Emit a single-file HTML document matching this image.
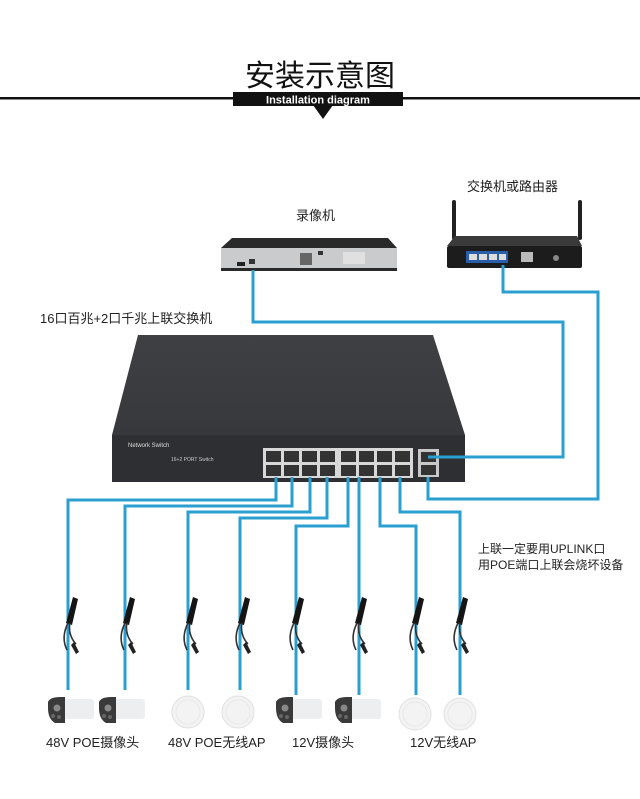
<!DOCTYPE html>
<html><head><meta charset="utf-8"><style>
html,body{margin:0;padding:0;background:#fff;}
svg{display:block;}
text{font-family:"Liberation Sans","Noto Sans CJK SC",sans-serif;}
</style></head><body>
<svg width="640" height="799" viewBox="0 0 640 799" xmlns="http://www.w3.org/2000/svg">
<defs>
<linearGradient id="tg" x1="0" y1="0" x2="0" y2="1"><stop offset="0" stop-color="#3e4044"/><stop offset="1" stop-color="#36383b"/></linearGradient>
<g id="ad">
<path d="M3 -3 L8 -1 L2 25 L-4 23 Z" fill="#151515"/>
<path d="M-2 23 C-7 33 -7 42 -3 50" stroke="#333" stroke-width="1.6" fill="none"/>
<path d="M0 23 C-2 32 2 40 6 44" stroke="#333" stroke-width="1.6" fill="none"/>
<path d="M4 42 L9 52 L6 54 L1 45 Z" fill="#222"/>
</g>
<g id="cam">
<rect x="8" y="2" width="38" height="20" rx="3" fill="#eceef0"/>
<path d="M0 5 Q2 0 12 0 L17 0 L17 26 L7 26 Q0 22 0 11 Z" fill="#3a3a3a"/>
<circle cx="9" cy="11" r="3.5" fill="#888"/>
<circle cx="5" cy="19" r="2" fill="#666"/><circle cx="11" cy="20" r="2" fill="#666"/>
</g>
<g id="ap">
<circle cx="0" cy="0" r="16" fill="#f3f3f3" stroke="#e0e0e0"/>
<circle cx="0" cy="0" r="12" fill="none" stroke="#e8e8e8"/>
</g>
</defs>

<text x="320" y="86" font-size="30" text-anchor="middle" fill="#111">安装示意图</text>
<rect x="0" y="97" width="640" height="2.5" fill="#111"/>
<rect x="233" y="92" width="170" height="14" fill="#111"/>
<text x="318" y="103.5" font-size="11" fill="#fff" text-anchor="middle" font-weight="bold">Installation diagram</text>
<polygon points="313,105 333,105 323,119" fill="#111"/>

<text x="296" y="220" font-size="13" fill="#222">录像机</text>
<text x="467" y="191" font-size="13" fill="#222">交换机或路由器</text>
<text x="40" y="323" font-size="13" fill="#222">16口百兆+2口千兆上联交换机</text>
<text x="478" y="553" font-size="12" fill="#222">上联一定要用UPLINK口</text>
<text x="478" y="569" font-size="12" fill="#222">用POE端口上联会烧坏设备</text>

<polygon points="232,238 388,238 397,248 221,248" fill="#2a2a2a"/>
<rect x="221" y="248" width="176" height="22" fill="#c9cbcd"/>
<rect x="221" y="268" width="176" height="3" fill="#2a2a2a"/>
<rect x="237" y="262" width="8" height="4" fill="#222"/><rect x="249" y="259" width="6" height="5" fill="#333"/>
<rect x="300" y="253" width="12" height="12" fill="#666"/><rect x="318" y="251" width="5" height="4" fill="#333"/>
<rect x="343" y="252" width="22" height="12" fill="#e0e0e0"/>

<rect x="452" y="200" width="4" height="40" rx="2" fill="#222"/>
<rect x="578" y="200" width="4" height="40" rx="2" fill="#222"/>
<polygon points="455,236 577,236 582,246 447,246" fill="#3a3a3a"/>
<rect x="447" y="246" width="135" height="22" rx="2" fill="#1c1c1c"/>
<rect x="466" y="251" width="42" height="12" fill="#2b5ea8"/>
<rect x="469" y="254" width="8" height="6" fill="#ddd"/><rect x="479" y="254" width="8" height="6" fill="#ddd"/><rect x="489" y="254" width="8" height="6" fill="#ddd"/><rect x="499" y="254" width="7" height="6" fill="#ddd"/>
<rect x="521" y="252" width="12" height="10" fill="#bbb"/>
<circle cx="556" cy="258" r="3" fill="#888"/>

<polygon points="138,335 433,335 465,435 112,435" fill="url(#tg)"/>
<rect x="112" y="435" width="353" height="47" fill="#2d2f32"/>
<text x="128" y="447" font-size="6" fill="#ddd">Network Switch</text>
<text x="171" y="461" font-size="5" fill="#ccc">16+2 PORT Switch</text>
<rect x="263" y="448" width="150" height="30" fill="#d8d8d8"/>
<g fill="#333">
<rect x="266" y="451" width="15" height="11"/><rect x="284" y="451" width="15" height="11"/><rect x="302" y="451" width="15" height="11"/><rect x="320" y="451" width="15" height="11"/>
<rect x="341" y="451" width="15" height="11"/><rect x="359" y="451" width="15" height="11"/><rect x="377" y="451" width="15" height="11"/><rect x="395" y="451" width="15" height="11"/>
<rect x="266" y="465" width="15" height="11"/><rect x="284" y="465" width="15" height="11"/><rect x="302" y="465" width="15" height="11"/><rect x="320" y="465" width="15" height="11"/>
<rect x="341" y="465" width="15" height="11"/><rect x="359" y="465" width="15" height="11"/><rect x="377" y="465" width="15" height="11"/><rect x="395" y="465" width="15" height="11"/>
</g>
<rect x="418" y="449" width="21" height="28" fill="#c8c8c8"/>
<rect x="421" y="452" width="15" height="10" fill="#333"/><rect x="421" y="465" width="15" height="10" fill="#333"/>

<g stroke="#2a9fd0" stroke-width="3" fill="none">
<polyline points="253,270 253,322 563,322 563,457 428,457"/>
<polyline points="503,265 503,292 598,292 598,499 428,499 428,477"/>
<polyline points="276,477 276,500 68,500 68,690"/>
<polyline points="292,477 292,506 125,506 125,690"/>
<polyline points="310,477 310,512 188,512 188,690"/>
<polyline points="327,477 327,518 240,518 240,690"/>
<polyline points="348,477 348,526 296,526 296,695"/>
<polyline points="359,477 359,695"/>
<polyline points="380,477 380,526 416,526 416,695"/>
<polyline points="400,477 400,512 460,512 460,695"/>
</g>

<use href="#ad" x="70" y="600"/><use href="#ad" x="127" y="600"/>
<use href="#ad" x="190" y="600"/><use href="#ad" x="242" y="600"/>
<use href="#ad" x="296" y="600"/><use href="#ad" x="359" y="600"/>
<use href="#ad" x="416" y="600"/><use href="#ad" x="460" y="600"/>

<use href="#cam" x="48" y="697"/><use href="#cam" x="99" y="697"/>
<use href="#ap" x="188" y="712"/><use href="#ap" x="238" y="712"/>
<use href="#cam" x="276" y="697"/><use href="#cam" x="335" y="697"/>
<use href="#ap" x="415" y="714"/><use href="#ap" x="460" y="714"/>

<g font-size="13" fill="#222">
<text x="46" y="747">48V POE摄像头</text>
<text x="168" y="747">48V POE无线AP</text>
<text x="292" y="747">12V摄像头</text>
<text x="410" y="747">12V无线AP</text>
</g>
</svg>
</body></html>
